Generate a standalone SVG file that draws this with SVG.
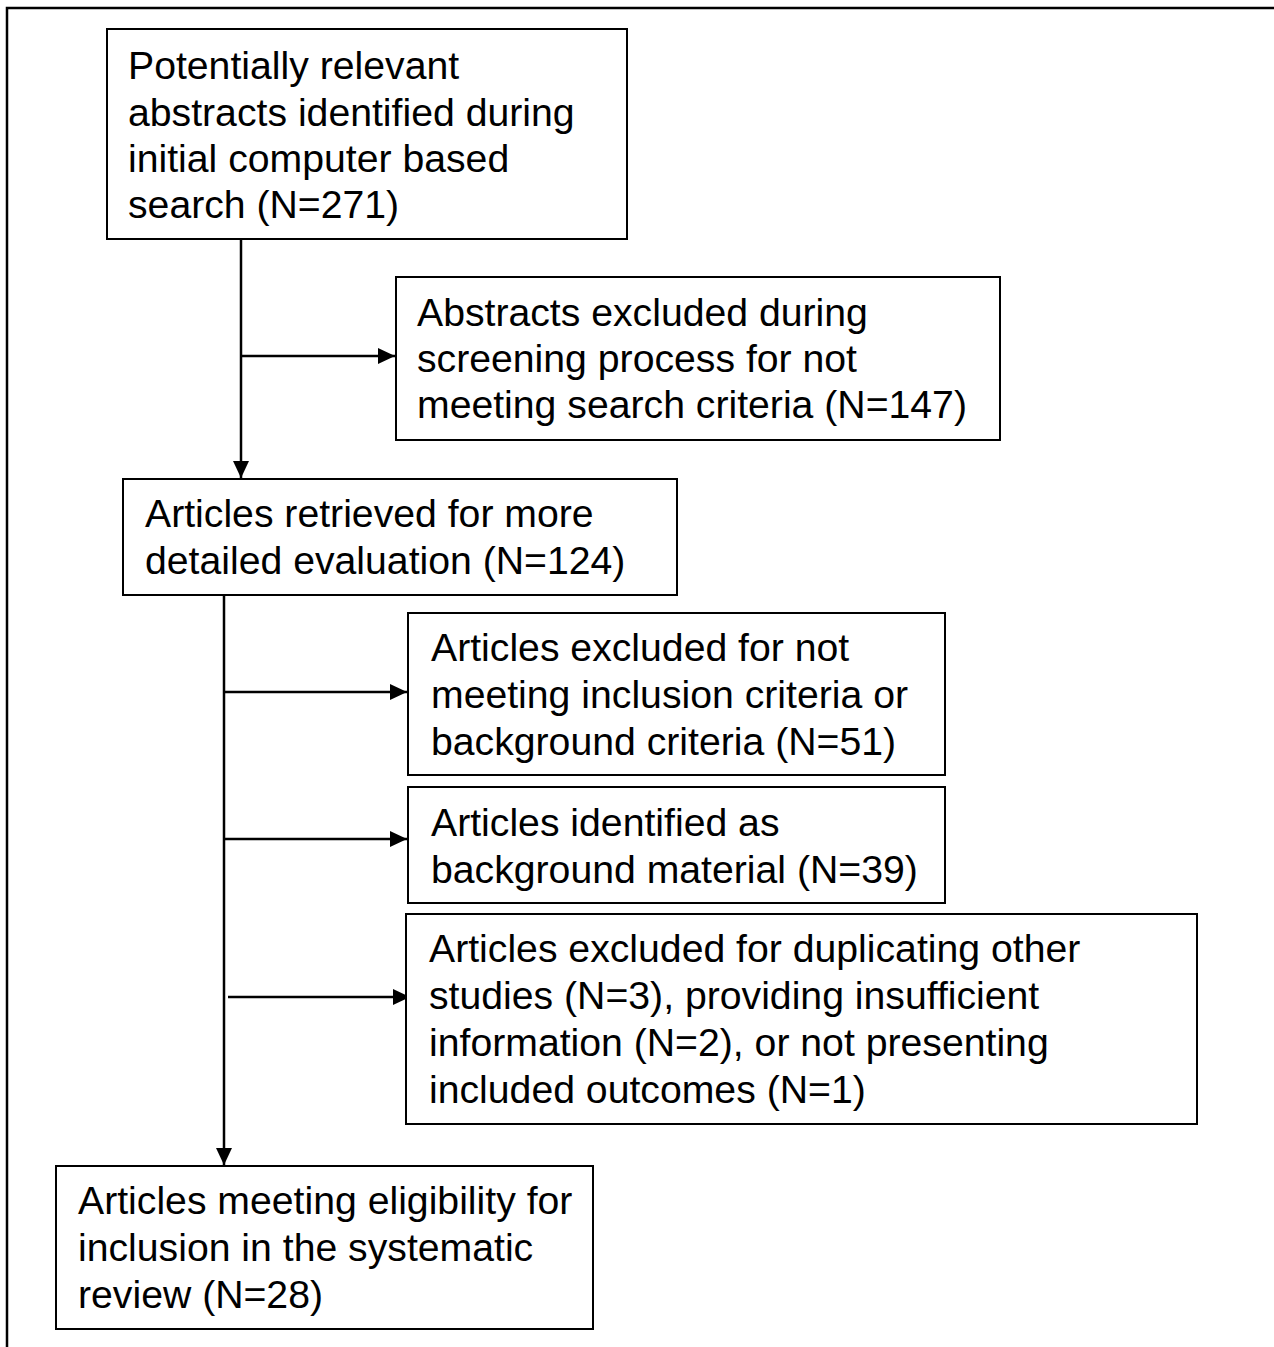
<svg xmlns="http://www.w3.org/2000/svg" width="1274" height="1347" viewBox="0 0 1274 1347">
<style>
.box{fill:#fff;stroke:#000;stroke-width:2}
.t{font-family:"Liberation Sans",Arial,sans-serif;font-size:39.2px;fill:#000}
.c{stroke:#000;stroke-width:2.5;fill:none}
</style>
<defs>
<marker id="ah" markerWidth="17" markerHeight="16" refX="17" refY="8" orient="auto" markerUnits="userSpaceOnUse">
<path d="M0,0 L17,8 L0,16 Z" fill="#000"/>
</marker>
</defs>
<rect x="0" y="0" width="1274" height="1347" fill="#fff"/>
<path d="M7,1347 V8 H1274" fill="none" stroke="#000" stroke-width="2.5"/>
<g id="connectors">
<line class="c" x1="241" y1="239" x2="241" y2="478" marker-end="url(#ah)"/>
<line class="c" x1="241" y1="356" x2="395" y2="356" marker-end="url(#ah)"/>
<line class="c" x1="224" y1="595" x2="224" y2="1165" marker-end="url(#ah)"/>
<line class="c" x1="224" y1="692" x2="407" y2="692" marker-end="url(#ah)"/>
<line class="c" x1="224" y1="839" x2="407" y2="839" marker-end="url(#ah)"/>
<line class="c" x1="228" y1="997" x2="410" y2="997" stroke-width="3" marker-end="url(#ah)"/>
</g>
<g id="n1">
<rect class="box" x="107" y="29" width="520" height="210"/>
<text class="t" x="128" y="79">Potentially relevant</text>
<text class="t" x="128" y="126">abstracts identified during</text>
<text class="t" x="128" y="172">initial computer based</text>
<text class="t" x="128" y="218">search (N=271)</text>
</g>
<g id="n2">
<rect class="box" x="396" y="277" width="604" height="163"/>
<text class="t" x="417" y="326">Abstracts excluded during</text>
<text class="t" x="417" y="372">screening process for not</text>
<text class="t" x="417" y="418">meeting search criteria (N=147)</text>
</g>
<g id="n3">
<rect class="box" x="123" y="479" width="554" height="116"/>
<text class="t" x="145" y="527">Articles retrieved for more</text>
<text class="t" x="145" y="574">detailed evaluation (N=124)</text>
</g>
<g id="n4">
<rect class="box" x="408" y="613" width="537" height="162"/>
<text class="t" x="431" y="661">Articles excluded for not</text>
<text class="t" x="431" y="708">meeting inclusion criteria or</text>
<text class="t" x="431" y="755">background criteria (N=51)</text>
</g>
<g id="n5">
<rect class="box" x="408" y="787" width="537" height="116"/>
<text class="t" x="431" y="836">Articles identified as</text>
<text class="t" x="431" y="883">background material (N=39)</text>
</g>
<g id="n6">
<rect class="box" x="406" y="914" width="791" height="210"/>
<text class="t" x="429" y="962">Articles excluded for duplicating other</text>
<text class="t" x="429" y="1009">studies (N=3), providing insufficient</text>
<text class="t" x="429" y="1056">information (N=2), or not presenting</text>
<text class="t" x="429" y="1103">included outcomes (N=1)</text>
</g>
<g id="n7">
<rect class="box" x="56" y="1166" width="537" height="163"/>
<text class="t" x="78" y="1214">Articles meeting eligibility for</text>
<text class="t" x="78" y="1261">inclusion in the systematic</text>
<text class="t" x="78" y="1308">review (N=28)</text>
</g>
</svg>
